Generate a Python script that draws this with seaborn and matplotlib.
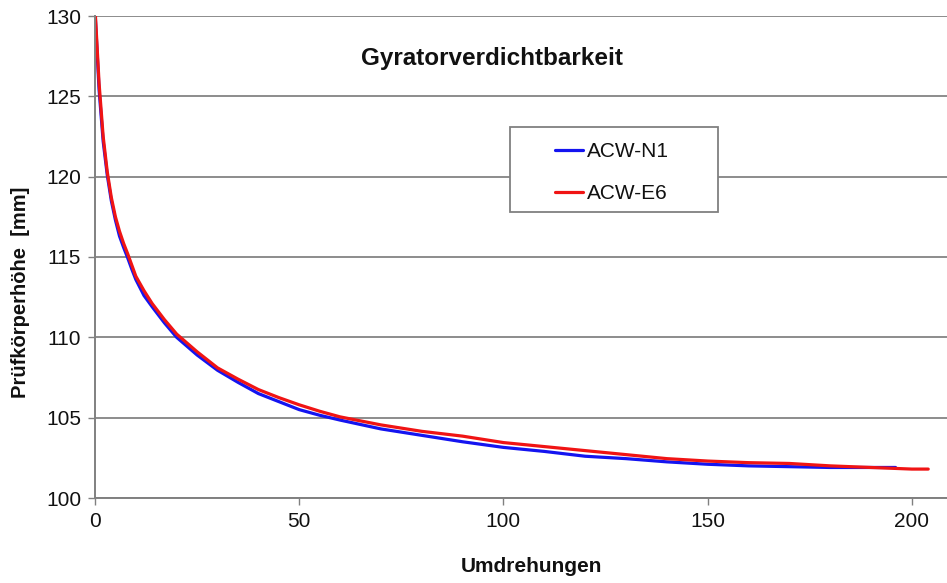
import matplotlib
matplotlib.use("Agg")
import matplotlib.pyplot as plt
from matplotlib.patches import Rectangle
import seaborn as sns
import pandas as pd

# Data
x_n1 = [0, 1, 2, 3, 4, 5, 6, 7, 8, 9, 10, 12, 14, 17, 20, 25, 30, 35, 40, 45, 50, 55, 60,
        70, 80, 90, 100, 110, 120, 130, 140, 150, 160, 170, 180, 190, 196]
y_n1 = [130.3, 125.4, 122.2, 120.1, 118.5, 117.3, 116.3, 115.6, 114.95, 114.25, 113.6,
        112.6, 111.9, 110.9, 110.0, 108.9, 107.95, 107.2, 106.5, 106.0, 105.5, 105.15,
        104.85, 104.3, 103.9, 103.5, 103.15, 102.9, 102.6, 102.45, 102.25, 102.1,
        102.0, 101.95, 101.9, 101.9, 101.9]

x_e6 = [0, 1, 2, 3, 4, 5, 6, 7, 8, 9, 10, 12, 14, 17, 20, 25, 30, 35, 40, 45, 50, 55, 60,
        70, 80, 90, 100, 110, 120, 130, 140, 150, 160, 170, 180, 190, 200, 204]
y_e6 = [130.5, 125.8, 122.5, 120.3, 118.7, 117.5, 116.6, 115.85, 115.2, 114.5, 113.8,
        112.9, 112.1, 111.1, 110.2, 109.1, 108.1, 107.4, 106.75, 106.25, 105.8, 105.4,
        105.05, 104.55, 104.15, 103.85, 103.45, 103.2, 102.95, 102.7, 102.45, 102.3,
        102.2, 102.15, 102.0, 101.9, 101.8, 101.8]

series_names = ["ACW-N1", "ACW-E6"]
colors = ["#1414f0", "#f01414"]
y_ticks = [100, 105, 110, 115, 120, 125, 130]
x_ticks = [0, 50, 100, 150, 200]

df = pd.concat([
    pd.DataFrame({"Umdrehungen": x_n1, "Hoehe": y_n1, "Serie": series_names[0]}),
    pd.DataFrame({"Umdrehungen": x_e6, "Hoehe": y_e6, "Serie": series_names[1]}),
])

sns.set_style("white")
plt.rcParams["font.family"] = ["Liberation Sans", "DejaVu Sans"]

fig = plt.figure(figsize=(9.47, 5.83), dpi=100)
ax = fig.add_axes([95 / 947, 85 / 583, 852 / 947, 482 / 583])

sns.lineplot(data=df, x="Umdrehungen", y="Hoehe", hue="Serie",
             palette=dict(zip(series_names, colors)), linewidth=2.3,
             ax=ax, sort=False, estimator=None)

ax.set_xlim(0, 208.6)
ax.set_ylim(100, 130)
ax.set_xticks(x_ticks)
ax.set_yticks(y_ticks)
ax.yaxis.grid(True, color="#8c8c8c", linewidth=1.4)
ax.xaxis.grid(False)
ax.set_axisbelow(True)
for s in ["top", "right"]:
    ax.spines[s].set_visible(False)
for s in ["left", "bottom"]:
    ax.spines[s].set_color("#808080")
    ax.spines[s].set_linewidth(1.4)
ax.tick_params(axis="both", direction="out", length=5, width=1, color="#808080",
               labelsize=15, labelcolor="#111111", pad=5, left=True, bottom=True)

ax.set_xlabel("Umdrehungen", fontsize=15, fontweight="bold", color="#111111")
ax.set_ylabel("Prüfkörperhöhe  [mm]", fontsize=14.5, fontweight="bold", color="#111111")
ax.xaxis.set_label_coords((531 - 95) / 852, (498 - 566) / 482)
ax.yaxis.set_label_coords((20 - 95) / 852, (498 - 292) / 482)
ax.xaxis.label.set_va("center")
ax.yaxis.label.set_va("center")

ax.text((492 - 95) / 852, (498 - 58) / 482, "Gyratorverdichtbarkeit", transform=ax.transAxes,
        ha="center", va="center", fontsize=17.5, fontweight="bold", color="#111111")

# legend frame
ax.add_patch(Rectangle(((510 - 95) / 852, (498 - 212) / 482), 208 / 852, 85 / 482,
                       transform=ax.transAxes, facecolor="white", edgecolor="#808080",
                       linewidth=1.3, zorder=4))
leg = ax.legend(loc="center left", bbox_to_anchor=((555 - 95) / 852, (498 - 172.5) / 482),
                fontsize=15, frameon=False, handlelength=1.35, handletextpad=0.2,
                labelspacing=1.12, borderpad=0, borderaxespad=0)
leg.set_zorder(5)
leg.set_title(None)
for h in leg.get_lines():
    h.set_linewidth(2.3)
for t in leg.get_texts():
    t.set_color("#111111")

fig.savefig("out.png", dpi=100)
